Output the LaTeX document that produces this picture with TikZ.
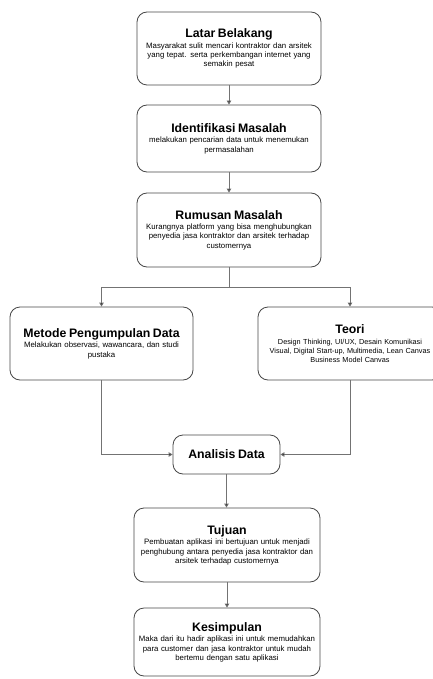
\documentclass[tikz,border=0pt]{standalone}
\usepackage{fontspec}
\setmainfont{Liberation Sans}
\usetikzlibrary{arrows.meta}
\newcommand{\boxtxt}[2]{{\fontsize{12.3}{14}\selectfont\bfseries #1}\\[1.5pt]#2}
\begin{document}
\begin{tikzpicture}[x=1pt,y=-1pt,
  box/.style={draw=black!72, line width=0.8pt, rounded corners=10pt, fill=white,
    align=center, inner xsep=1pt, inner ysep=2pt,
    font=\fontsize{7.8}{9.2}\selectfont},
  conn/.style={draw=black!55, line width=0.8pt},
  arr/.style={conn, -{Triangle[length=4pt,width=4.5pt,fill=black!85]}}
]
\useasboundingbox (0,0) rectangle (433,679);

\node[box, minimum width=184pt, minimum height=73pt, text width=182pt] (latar) at (229,48.5)
  {\boxtxt{Latar Belakang}{Masyarakat sulit mencari kontraktor dan arsitek\\yang tepat. serta perkembangan internet yang\\semakin pesat}};
\node[box, minimum width=184pt, minimum height=67pt, text width=182pt] (ident) at (229,138.5)
  {\boxtxt{Identifikasi Masalah}{melakukan pencarian data untuk menemukan\\permasalahan}};
\node[box, minimum width=184pt, minimum height=74pt, text width=182pt] (rumus) at (229,230)
  {\boxtxt{Rumusan Masalah}{Kurangnya platform yang bisa menghubungkan\\penyedia jasa kontraktor dan arsitek terhadap\\customernya}};
\node[box, minimum width=183pt, minimum height=73pt, text width=181pt] (metode) at (101.5,343.5)
  {\boxtxt{Metode Pengumpulan Data}{Melakukan observasi, wawancara, dan studi\\pustaka}};
\node[box, minimum width=184pt, minimum height=73pt, text width=182pt,
      font=\fontsize{7.3}{9.2}\selectfont] (teori) at (350,343.5)
  {\boxtxt{Teori}{Design Thinking, UI/UX, Desain Komunikasi\\Visual, Digital Start-up, Multimedia, Lean Canvas\\Business Model Canvas}};
\node[box, minimum width=107pt, minimum height=39pt, text width=105pt] (analisis) at (226.5,454.5)
  {{\fontsize{12.3}{14}\selectfont\bfseries Analisis Data}};
\node[box, minimum width=186pt, minimum height=74pt, text width=184pt] (tujuan) at (227,545)
  {\boxtxt{Tujuan}{Pembuatan aplikasi ini bertujuan untuk menjadi\\penghubung antara penyedia jasa kontraktor dan\\arsitek terhadap customernya}};
\node[box, minimum width=186pt, minimum height=68pt, text width=184pt] (kesim) at (227,642)
  {\boxtxt{Kesimpulan}{Maka dari itu hadir aplikasi ini untuk memudahkan\\para customer dan jasa kontraktor untuk mudah\\bertemu dengan satu aplikasi}};

\coordinate (split) at (229,287);
\draw[arr] (latar.south) -- (ident.north);
\draw[arr] (ident.south) -- (rumus.north);
\draw[arr] (rumus.south) -- (split) -| (metode.north);
\draw[arr] (split) -| (teori.north);
\draw[arr] (metode.south) |- (analisis.west);
\draw[arr] (teori.south) |- (analisis.east);
\draw[arr] (analisis.south) -- (analisis.south |- tujuan.north);
\draw[arr] (tujuan.south) -- (kesim.north);
\end{tikzpicture}
\end{document}
